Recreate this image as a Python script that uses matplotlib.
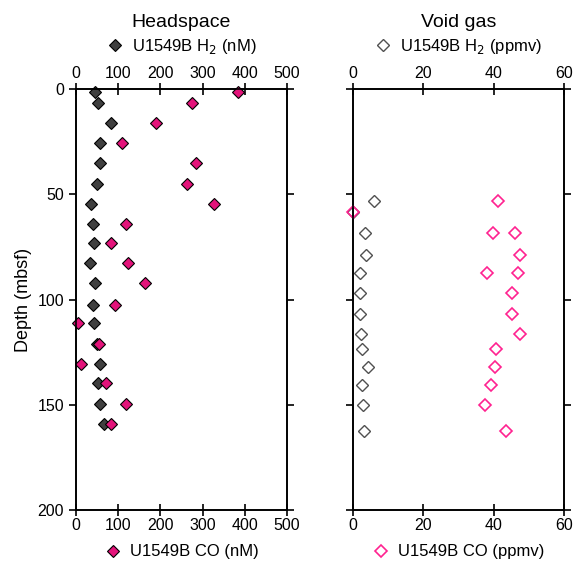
import matplotlib
matplotlib.use('Agg')
import matplotlib.pyplot as plt
from matplotlib.lines import Line2D

plt.rcParams['font.family'] = ['Liberation Sans', 'DejaVu Sans']

# headspace data (nM)
hs_depth = [1.3, 6.5, 16, 25.5, 35, 45.3, 54.6, 64.3, 73, 82.7, 92.2,
            102.5, 111, 121, 130.6, 139.8, 149.6, 159]
hs_h2 = [46, 51, 84, 58, 56, 50, 36, 41, 43, 34, 45,
         40, 43, 49, 58, 53, 58, 66]
hs_co = [384, 274, 189, 108, 284, 264, 326, 119, 83, 123, 163,
         93, 5, 55, 11, 72, 118, 84]

# void gas data (ppmv)
vg_h2_depth = [53.1, 58.4, 68.3, 78.9, 87.4, 97.1, 106.9, 116.4, 123.4,
               131.9, 140.4, 150.3, 162.5]
vg_h2 = [5.9, 0, 3.6, 3.8, 2.0, 2.1, 2.0, 2.4, 2.5, 4.3, 2.7, 2.8, 3.2]
vg_co_depth = [53.1, 58.4, 68.3, 68.3, 78.9, 87.4, 87.4, 97.1, 106.9,
               116.4, 123.4, 131.9, 140.4, 150.3, 162.5]
vg_co = [41.1, 0, 39.7, 46.0, 47.4, 38.0, 46.9, 45.2, 45.1, 47.5, 40.6,
         40.3, 39.2, 37.5, 43.6]

GRAY = '#3f3f3f'
PINK = '#e3137a'
PINK_HOLLOW = '#ff2290'
TICK_FS = 11.5
LEG_FS = 12
MS = 6

fig = plt.figure(figsize=(5.74, 5.63), dpi=100)
ax_l = fig.add_axes([0.1324, 0.0941, 0.3676, 0.7478])
ax_r = fig.add_axes([0.6145, 0.0941, 0.3686, 0.7478])


def setup(ax, xmax, xstep):
    ax2 = ax.twiny()
    # main axis shows H2 on top, twin shows CO at bottom
    ax.xaxis.set_ticks_position('top')
    ax.xaxis.set_label_position('top')
    ax2.xaxis.set_ticks_position('bottom')
    ax2.xaxis.set_label_position('bottom')
    for a in (ax, ax2):
        a.set_xlim(0, xmax)
        a.set_xticks(range(0, xmax + 1, xstep))
        a.set_ylim(200, 0)
        a.tick_params(axis='x', direction='inout', length=8, width=1.2,
                      labelsize=TICK_FS, pad=2)
        for s in a.spines.values():
            s.set_linewidth(1.2)
    ax.set_yticks(range(0, 201, 50))
    ax.tick_params(axis='y', direction='out', length=5, width=1.2,
                   labelsize=TICK_FS, right=True)
    return ax2


ax_l2 = setup(ax_l, 500, 100)
ax_r2 = setup(ax_r, 60, 20)
ax_r.tick_params(axis='y', labelleft=False)

# headspace
ax_l.plot(hs_h2, hs_depth, 'D', color=GRAY, mec='black', mew=0.8,
          ms=MS, clip_on=False)
ax_l2.plot(hs_co, hs_depth, 'D', color=PINK, mec='black', mew=0.8,
           ms=MS, clip_on=False)

# void gas
ax_r.plot(vg_h2, vg_h2_depth, 'D', mfc='white', mec='#505050', mew=1.0,
          ms=MS, clip_on=False)
ax_r2.plot(vg_co, vg_co_depth, 'D', mfc='none', mec=PINK_HOLLOW, mew=1.2,
           ms=MS, clip_on=False)

ax_l.set_ylabel('Depth (mbsf)', fontsize=13, labelpad=4)

# titles and legends
for ax, title in ((ax_l, 'Headspace'), (ax_r, 'Void gas')):
    ax.set_title(title, fontsize=14, pad=45)

h_hs_h2 = Line2D([], [], ls='none', marker='D', color=GRAY, mec='black',
                 mew=0.8, ms=6.5)
h_hs_co = Line2D([], [], ls='none', marker='D', color=PINK, mec='black',
                 mew=0.8, ms=6.5)
h_vg_h2 = Line2D([], [], ls='none', marker='D', mfc='white', mec='#505050',
                 mew=1.0, ms=6.5)
h_vg_co = Line2D([], [], ls='none', marker='D', mfc='none', mec=PINK_HOLLOW,
                 mew=1.2, ms=6.5)

leg_kw = dict(frameon=False, fontsize=LEG_FS, handletextpad=0.5,
              borderaxespad=0, handlelength=1.0)
ax_l.legend([h_hs_h2], ['U1549B H$_2$ (nM)'], loc='lower center',
            bbox_to_anchor=(0.5, 1.063), **leg_kw)
ax_l2.legend([h_hs_co], ['U1549B CO (nM)'], loc='upper center',
             bbox_to_anchor=(0.5, -0.066), **leg_kw)
ax_r.legend([h_vg_h2], ['U1549B H$_2$ (ppmv)'], loc='lower center',
            bbox_to_anchor=(0.5, 1.063), **leg_kw)
ax_r2.legend([h_vg_co], ['U1549B CO (ppmv)'], loc='upper center',
             bbox_to_anchor=(0.5, -0.066), **leg_kw)

plt.savefig('out.png', dpi=100)
plt.close()
